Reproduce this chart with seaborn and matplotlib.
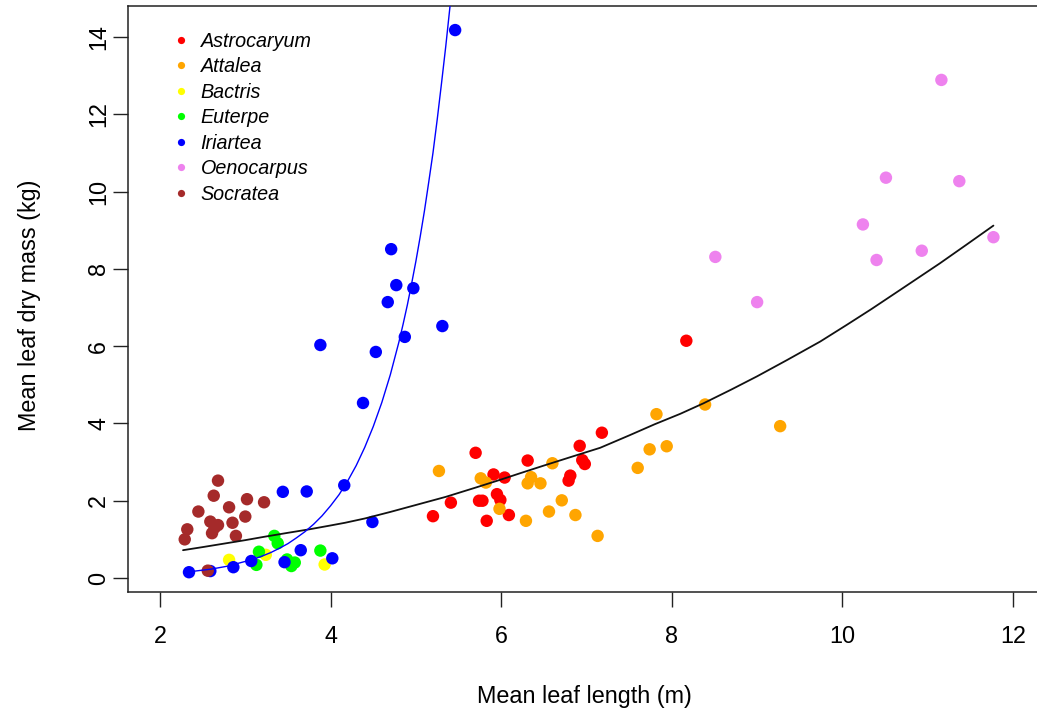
import matplotlib
matplotlib.use("Agg")
import matplotlib.pyplot as plt
from matplotlib.lines import Line2D
import seaborn as sns
import pandas as pd

# --- leaf measurements per genus: mean leaf length (m) and mean leaf dry mass (kg)
astro_len = [7.18, 5.70, 6.92, 6.31, 6.95, 6.98, 5.91, 6.04, 6.81, 6.79,
             5.95, 5.99, 5.74, 5.78, 5.41, 5.20, 5.83, 6.09, 8.17]
astro_mass = [3.76, 3.24, 3.42, 3.04, 3.05, 2.95, 2.68, 2.60, 2.65, 2.52,
              2.17, 2.02, 2.00, 2.00, 1.95, 1.60, 1.48, 1.63, 6.14]

attalea_len = [5.27, 5.76, 5.82, 6.60, 6.35, 6.31, 6.46, 5.98, 6.71, 6.56,
               6.87, 6.29, 7.13, 7.82, 8.39, 7.94, 7.74, 7.60, 9.27]
attalea_mass = [2.77, 2.58, 2.47, 2.97, 2.61, 2.45, 2.45, 1.79, 2.01, 1.72,
                1.63, 1.48, 1.09, 4.24, 4.49, 3.41, 3.33, 2.85, 3.93]

bactris_len = [2.81, 3.24, 3.93]
bactris_mass = [0.47, 0.60, 0.35]

euterpe_len = [3.34, 3.38, 3.16, 3.13, 3.49, 3.58, 3.54, 3.88]
euterpe_mass = [1.09, 0.90, 0.68, 0.34, 0.48, 0.40, 0.31, 0.71]

iriartea_len = [5.46, 4.71, 4.77, 4.97, 4.67, 5.31, 3.88, 4.87, 4.53, 4.38,
                4.16, 3.72, 3.44, 4.49, 2.34, 2.59, 2.86, 3.07, 3.46, 3.65, 4.02]
iriartea_mass = [14.18, 8.51, 7.58, 7.50, 7.14, 6.52, 6.03, 6.24, 5.85, 4.53,
                 2.40, 2.24, 2.23, 1.45, 0.15, 0.18, 0.28, 0.44, 0.41, 0.72, 0.51]

oeno_len = [11.16, 10.51, 11.37, 10.24, 11.77, 10.93, 10.40, 8.51, 9.00]
oeno_mass = [12.89, 10.36, 10.27, 9.15, 8.82, 8.47, 8.23, 8.31, 7.14]

socratea_len = [2.68, 2.63, 3.02, 3.22, 2.81, 2.45, 3.00, 2.59, 2.68, 2.85,
                2.61, 2.32, 2.29, 2.89, 2.56, 2.64]
socratea_mass = [2.52, 2.13, 2.04, 1.96, 1.83, 1.72, 1.59, 1.46, 1.37, 1.43,
                 1.16, 1.26, 1.00, 1.09, 0.19, 1.30]

genera = ["Astrocaryum", "Attalea", "Bactris", "Euterpe",
          "Iriartea", "Oenocarpus", "Socratea"]
genus_colors = ["#FF0000", "#FFA500", "#FFFF00", "#00FF00",
                "#0000FF", "#EE82EE", "#A52A2A"]

# --- fitted curves: all genera (black) and Iriartea alone (blue)
fit_all_len = [2.27, 2.50, 2.75, 3.00, 3.23, 3.50, 3.75, 4.00, 4.17, 4.40,
               4.70, 5.05, 5.35, 5.70, 6.00, 6.22, 6.50, 6.80, 7.16, 7.50,
               7.80, 8.10, 8.37, 8.70, 9.00, 9.35, 9.74, 10.05, 10.34, 10.70,
               11.14, 11.45, 11.77]
fit_all_mass = [0.72, 0.80, 0.89, 0.98, 1.07, 1.17, 1.26, 1.36, 1.43, 1.54,
                1.71, 1.92, 2.10, 2.34, 2.55, 2.71, 2.91, 3.12, 3.37, 3.69,
                3.98, 4.25, 4.52, 4.88, 5.22, 5.64, 6.12, 6.55, 6.96, 7.49,
                8.14, 8.62, 9.12]

fit_iri_len = [2.34, 2.45, 2.60, 2.70, 2.80, 2.90, 3.00, 3.10, 3.20, 3.30,
               3.40, 3.50, 3.60, 3.70, 3.80, 3.90, 4.00, 4.10, 4.20, 4.30,
               4.40, 4.50, 4.60, 4.70, 4.80, 4.85, 4.90, 4.95, 5.00, 5.05,
               5.10, 5.15, 5.20, 5.25, 5.30, 5.35, 5.40, 5.45]
fit_iri_mass = [0.16, 0.19, 0.23, 0.27, 0.31, 0.37, 0.43, 0.49, 0.57, 0.66,
                0.77, 0.89, 1.04, 1.20, 1.39, 1.61, 1.87, 2.16, 2.51, 2.91,
                3.38, 3.92, 4.54, 5.26, 6.10, 6.57, 7.07, 7.62, 8.20, 8.83,
                9.50, 10.24, 11.00, 11.87, 12.80, 13.76, 14.80, 15.95]

lengths = [astro_len, attalea_len, bactris_len, euterpe_len,
           iriartea_len, oeno_len, socratea_len]
masses = [astro_mass, attalea_mass, bactris_mass, euterpe_mass,
          iriartea_mass, oeno_mass, socratea_mass]

rows = []
for g, xs, ys in zip(genera, lengths, masses):
    for x, y in zip(xs, ys):
        rows.append({"genus": g, "length": x, "mass": y})
leaves = pd.DataFrame(rows)
palette = dict(zip(genera, genus_colors))

sns.set_style("white")
plt.rcParams["font.family"] = ["Liberation Sans", "DejaVu Sans"]
plt.rcParams["text.color"] = "black"
plt.rcParams["axes.labelcolor"] = "black"
plt.rcParams["xtick.color"] = "black"
plt.rcParams["ytick.color"] = "black"

fig = plt.figure(figsize=(10.37, 7.15), dpi=100)
ax = fig.add_axes([128 / 1037, 123 / 715, 912 / 1037, 586 / 715])

sns.scatterplot(data=leaves, x="length", y="mass", hue="genus",
                palette=palette, hue_order=genera, s=80, linewidth=0,
                edgecolor="none", legend=False, ax=ax, zorder=3)

sns.lineplot(x=fit_all_len, y=fit_all_mass, color="#111111", lw=1.3,
             sort=False, estimator=None, ax=ax, zorder=4)
sns.lineplot(x=fit_iri_len, y=fit_iri_mass, color="#0000FF", lw=1.0,
             sort=False, estimator=None, ax=ax, zorder=4)

ax.set_xlim(1.625, 12.316)
ax.set_ylim(-0.362, 14.803)
ax.set_xticks([2, 4, 6, 8, 10, 12])
ax.set_yticks([0, 2, 4, 6, 8, 10, 12, 14])

for side in ["left", "bottom", "top"]:
    ax.spines[side].set_color("#222222")
    ax.spines[side].set_linewidth(1.1)
ax.spines["right"].set_visible(False)

ax.tick_params(axis="both", which="major", direction="out", length=10.8,
               width=1.0, color="#222222", labelcolor="black",
               labelsize=16.8, left=True, bottom=True)
ax.tick_params(axis="x", pad=13)
ax.tick_params(axis="y", pad=2, labelrotation=90)
for lab in ax.get_yticklabels():
    lab.set_va("center")

ax.set_xlabel("Mean leaf length (m)", fontsize=16.8, va="center",
              color="black")
ax.set_ylabel("Mean leaf dry mass (kg)", fontsize=16.8, va="center",
              color="black")
ax.xaxis.set_label_coords(0.5, -0.179)
ax.yaxis.set_label_coords(-0.1078, 0.49)

handles = [Line2D([0], [0], marker="o", linestyle="none", markersize=5.2,
                  markerfacecolor=c, markeredgecolor="none")
           for c in genus_colors]
leg = ax.legend(handles, genera, loc="upper left", frameon=False,
                bbox_to_anchor=(0.032, 0.9866), handlelength=0.6,
                handletextpad=0.7, labelspacing=0.33,
                prop={"style": "italic", "size": 14.2})
for t in leg.get_texts():
    t.set_color("black")

fig.savefig("out.png", dpi=100)
